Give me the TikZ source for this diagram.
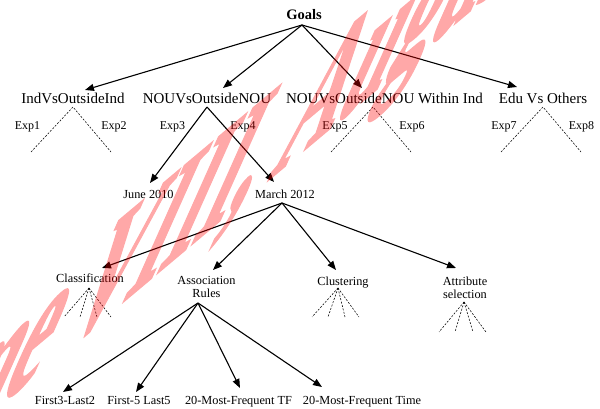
\documentclass[tikz,border=0pt]{standalone}
\usepackage{fontspec}
\setmainfont{Liberation Serif}
\newfontfamily\wmfont[FakeBold=2]{Liberation Serif Bold}
\usetikzlibrary{arrows.meta}
\begin{document}
\begin{tikzpicture}[x=1pt,y=-1pt,
  top/.style={font=\fontsize{14.5}{17}\selectfont\bfseries, anchor=base, inner sep=0},
  lvla/.style={font=\fontsize{15}{18}\selectfont, anchor=base, inner sep=0},
  lbl/.style={font=\fontsize{12}{14}\selectfont, anchor=base, inner sep=0},
  sm/.style={font=\fontsize{12.3}{13}\selectfont, anchor=base, inner sep=0, align=center},
  smtwo/.style={font=\fontsize{12.3}{13}\selectfont, anchor=north, inner sep=0, align=center},
  arr/.style={-{Triangle[length=9pt,width=7pt]}, line width=1.1pt},
  dsh/.style={dash pattern=on 2pt off 1.5pt, line width=0.55pt},
  wm/.style={font=\fontsize{10}{12}\selectfont\wmfont, text=red, anchor=base west, inner sep=0, transform shape}
]
\useasboundingbox (0,0) rectangle (600,409);
% nodes
\node[top] (goals) at (304,20) {Goals};
\node[lvla] (ind) at (73,104) {IndVsOutsideInd};
\node[lvla] (nou) at (207,104) {NOUVsOutsideNOU};
\node[lvla] (nouw) at (384.5,104) {NOUVsOutsideNOU Within Ind};
\node[lvla] (edu) at (543,104) {Edu Vs Others};
\node[lbl] (e1) at (27.5,130) {Exp1};
\node[lbl] (e2) at (114,130) {Exp2};
\node[lbl] (e3) at (172.5,130) {Exp3};
\node[lbl] (e4) at (243,130) {Exp4};
\node[lbl] (e5) at (335,130) {Exp5};
\node[lbl] (e6) at (412,130) {Exp6};
\node[lbl] (e7) at (504,130) {Exp7};
\node[lbl] (e8) at (581.5,130) {Exp8};
\node[sm] (june) at (148.5,198) {June 2010};
\node[sm] (march) at (285,198) {March 2012};
\node[sm] (class) at (90,282) {Classification};
\node[smtwo] (assoc) at (206.5,276.6) {Association\\Rules};
\node[sm] (clust) at (343,285) {Clustering};
\node[smtwo] (attr) at (465,276.6) {Attribute\\selection};
\node[sm] (f1) at (65,404) {First3-Last2};
\node[sm] (f2) at (139,404) {First-5 Last5};
\node[sm] (f3) at (238.5,404) {20-Most-Frequent TF};
\node[sm] (f4) at (362,404) {20-Most-Frequent Time};
% coordinates
\coordinate (g0) at (302,25);
\coordinate (indT) at (85,90);
\coordinate (nouT) at (223,88);
\coordinate (nouwT) at (362,88);
\coordinate (eduT) at (517,87);
\coordinate (a1) at (73,107);
\coordinate (a2) at (207,107);
\coordinate (a3) at (373,107);
\coordinate (a4) at (543,107);
\coordinate (juneT) at (150,183);
\coordinate (marchT) at (274,182);
\coordinate (m0) at (282,203);
\coordinate (classT) at (102,268);
\coordinate (assocT) at (213,270);
\coordinate (clustT) at (336,270);
\coordinate (attrT) at (456,268);
\coordinate (c0) at (89,288);
\coordinate (k0) at (338,288);
\coordinate (t0) at (464,302);
\coordinate (r0) at (198,303);
\coordinate (f1T) at (63,392);
\coordinate (f2T) at (136,392);
\coordinate (f3T) at (240,388);
\coordinate (f4T) at (322,387);
% solid arrows
\foreach \t in {indT,nouT,nouwT,eduT} \draw[arr] (g0) -- (\t);
\draw[arr] (a2) -- (juneT);
\draw[arr] (a2) -- (marchT);
\foreach \t in {classT,assocT,clustT,attrT} \draw[arr] (m0) -- (\t);
\foreach \t in {f1T,f2T,f3T,f4T} \draw[arr] (r0) -- (\t);
% dashed
\draw[dsh] (31,152) -- (a1) -- (111,152);
\draw[dsh] (331,152) -- (a3) -- (411,152);
\draw[dsh] (501,152) -- (a4) -- (581,152);
\foreach \x in {64,80,97,111} \draw[dsh] (c0) -- (\x,317);
\foreach \x in {312,328,345,359} \draw[dsh] (k0) -- (\x,317);
\foreach \x in {439,455,473,486} \draw[dsh] (t0) -- (\x,332);
% watermark
\begin{scope}[transparency group, opacity=0.34]
\begin{scope}[cm={8.81,7.39,9.2,20.6,(55.3pt,-358.6pt)}]
\node[wm] (wmark) at (0,0) {\llap{Volume }VIII, August 2012};
\end{scope}
\end{scope}
\end{tikzpicture}
\end{document}
